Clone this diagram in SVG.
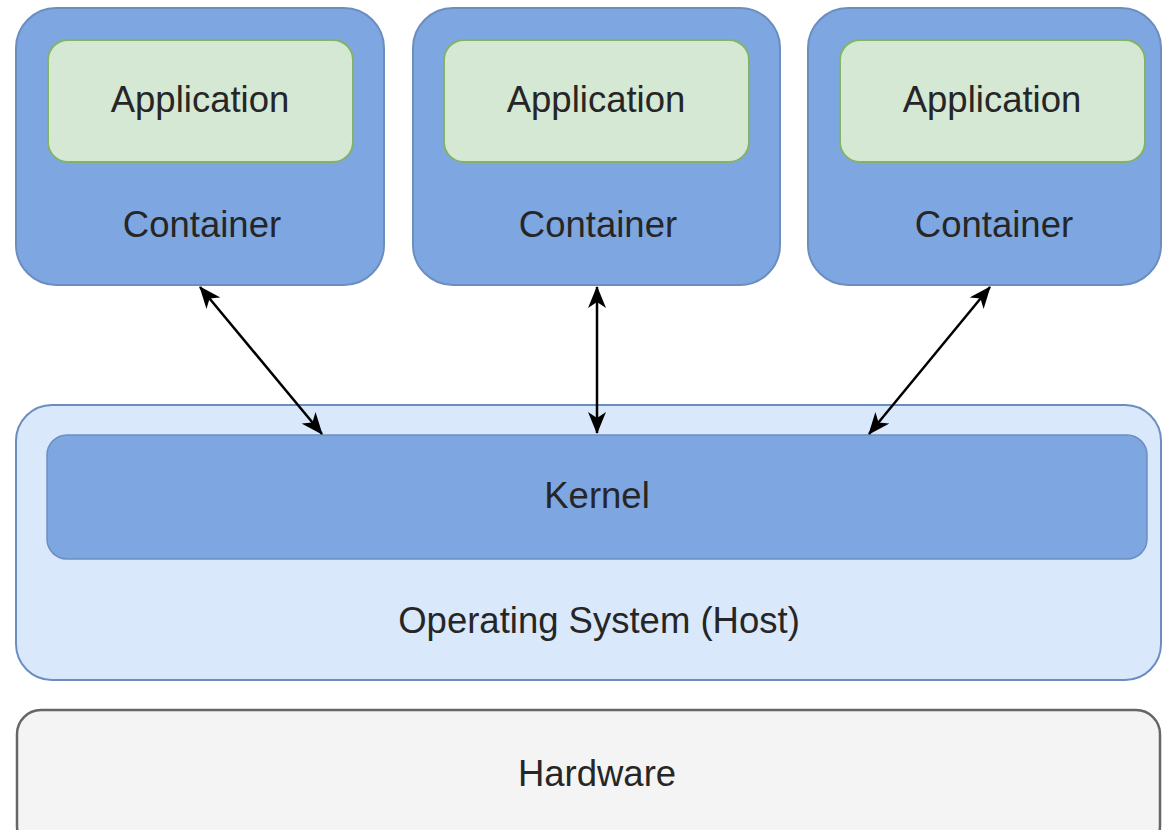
<svg xmlns="http://www.w3.org/2000/svg" width="1162" height="830" viewBox="0 0 1162 830">
<style>
.cont{fill:#7ea6e0;stroke:#6c8ebf;stroke-width:2}
.app{fill:#d5e8d4;stroke:#82b366;stroke-width:2}
.os{fill:#dae8fc;stroke:#6c8ebf;stroke-width:2}
.kern{fill:#7ea6e0;stroke:#6c8ebf;stroke-width:1.5}
.hw{fill:#f4f4f4;stroke:#666666;stroke-width:2.5}
.t{font-family:"Liberation Sans",Arial,sans-serif;font-size:36.5px;fill:#262626;text-anchor:middle}
.c{stroke:#000;stroke-width:2.5;fill:none;marker-start:url(#ah);marker-end:url(#ah)}
</style>
<defs>
<marker id="ah" markerUnits="userSpaceOnUse" markerWidth="22" markerHeight="18" viewBox="0 0 22 18" refX="21" refY="9" orient="auto-start-reverse">
<path d="M0,0 L22,9 L0,18 L6,9 Z" fill="#000"/>
</marker>
</defs>
<g id="hardware">
<rect class="hw" x="17" y="710" width="1143" height="140" rx="24"/>
<text class="t" x="597" y="786">Hardware</text>
</g>
<g id="os">
<rect class="os" x="16" y="405" width="1145" height="275" rx="36"/>
<text class="t" x="599" y="633">Operating System (Host)</text>
</g>
<g id="kernel">
<rect class="kern" x="47" y="435" width="1100" height="124" rx="20"/>
<text class="t" x="597" y="508">Kernel</text>
</g>
<g id="container1">
<rect class="cont" x="16" y="8" width="368" height="277" rx="40"/>
<text class="t" x="202" y="237">Container</text>
</g>
<g id="app1">
<rect class="app" x="48" y="40" width="305" height="122" rx="20"/>
<text class="t" x="200" y="112">Application</text>
</g>
<g id="container2">
<rect class="cont" x="413" y="8" width="367" height="277" rx="40"/>
<text class="t" x="598" y="237">Container</text>
</g>
<g id="app2">
<rect class="app" x="444" y="40" width="305" height="122" rx="20"/>
<text class="t" x="596" y="112">Application</text>
</g>
<g id="container3">
<rect class="cont" x="808" y="8" width="353" height="277" rx="40"/>
<text class="t" x="994" y="237">Container</text>
</g>
<g id="app3">
<rect class="app" x="840" y="40" width="305" height="122" rx="20"/>
<text class="t" x="992" y="112">Application</text>
</g>
<g id="connectors">
<line class="c" x1="200" y1="287" x2="322" y2="434"/>
<line class="c" x1="597" y1="287" x2="597" y2="433"/>
<line class="c" x1="990" y1="287" x2="869" y2="434"/>
</g>
</svg>
